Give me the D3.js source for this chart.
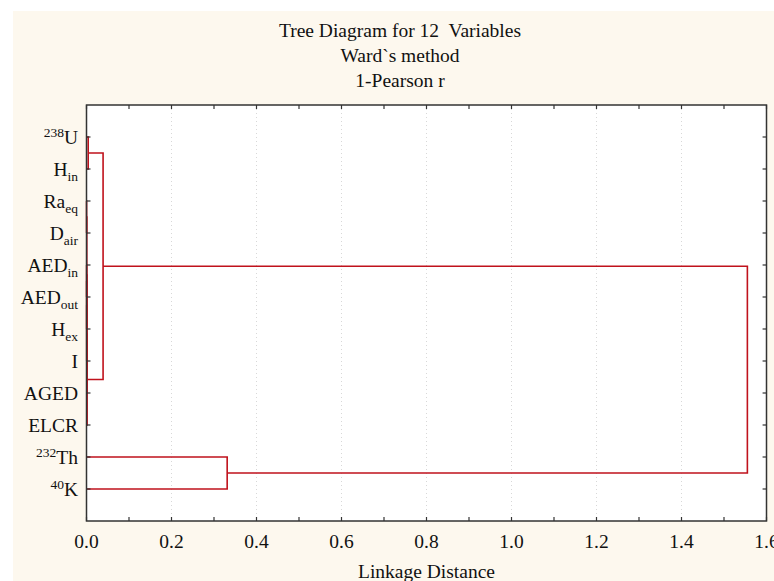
<!DOCTYPE html>
<html><head><meta charset="utf-8">
<script src="https://cdn.jsdelivr.net/npm/d3@7"></script>
<style>
html,body{margin:0;padding:0;background:#fff;}
svg{display:block;font-family:"Liberation Serif","Times New Roman",serif;}
text{white-space:pre;}
</style></head>
<body>
<svg id="chart" width="774" height="581"></svg>
<script>
// ---- data ----
const titleLines = ["Tree Diagram for 12  Variables", "Ward`s method", "1-Pearson r"];
const xAxisTitle = "Linkage Distance";
// leaf labels (top to bottom); ^{..} = superscript, _{..} = subscript
const leaves = ["^{238}U", "H_{in}", "Ra_{eq}", "D_{air}", "AED_{in}", "AED_{out}", "H_{ex}", "I", "AGED", "ELCR", "^{232}Th", "^{40}K"];
// amalgamation schedule: cluster n = 12 + row index joins mergeA[row] and mergeB[row]
const mergeA = [2, 4, 13, 14, 12, 16, 17, 0, 19, 10, 20];
const mergeB = [3, 5, 6, 7, 15, 8, 9, 1, 18, 11, 21];
const mergeDist = [0.0002, 0.0003, 0.0004, 0.0005, 0.0007, 0.001, 0.0015, 0.004, 0.039, 0.331, 1.555];
const xTicksMajor = [0, 0.2, 0.4, 0.6, 0.8, 1.0, 1.2, 1.4, 1.6];
const xTicksMinor = [0.1, 0.3, 0.5, 0.7, 0.9, 1.1, 1.3, 1.5];

// ---- layout ----
const svg = d3.select("#chart");
const L = 86.5, R = 766.5, T = 105, B = 521;
const cream = "#fdf8ee";
svg.append("rect").attr("x", 13).attr("y", 11).attr("width", 774).attr("height", 581).attr("fill", cream);
svg.append("rect").attr("x", L).attr("y", T).attr("width", R - L).attr("height", B - T).attr("fill", "#fff");

const x = d3.scaleLinear().domain([0, 1.6]).range([L, R]);
const y = d3.scalePoint().domain(d3.range(leaves.length)).range([T, B]).padding(1);

// gridlines (faint dotted)
svg.append("g").selectAll("line").data(xTicksMajor.slice(1, -1)).join("line")
  .attr("x1", d => x(d)).attr("x2", d => x(d)).attr("y1", T).attr("y2", B)
  .attr("stroke", "#d8d8d8").attr("stroke-width", 1).attr("stroke-dasharray", "1,3");

// nodes
const nodes = leaves.map((l, i) => ({h: 0, y: y(i)}));
mergeA.forEach((a, k) => {
  const b = mergeB[k];
  nodes.push({h: mergeDist[k], y: (nodes[a].y + nodes[b].y) / 2, a, b});
});
const red = "#c0121c";
const g = svg.append("g").attr("fill", "none").attr("stroke", red).attr("stroke-width", 1.6);
nodes.slice(leaves.length).forEach(n => {
  const A = nodes[n.a], Bn = nodes[n.b];
  const p = d3.path();
  p.moveTo(x(A.h), A.y);
  p.lineTo(x(n.h), A.y);
  p.lineTo(x(n.h), Bn.y);
  p.lineTo(x(Bn.h), Bn.y);
  g.append("path").attr("d", p.toString());
});

// frame
const axisCol = "#333";
svg.append("rect").attr("x", L).attr("y", T).attr("width", R - L).attr("height", B - T)
  .attr("fill", "none").attr("stroke", axisCol).attr("stroke-width", 1.5);

// x ticks bottom & top
const allX = xTicksMajor.concat(xTicksMinor);
svg.append("g").selectAll("line").data(allX).join("line")
  .attr("x1", d => x(d)).attr("x2", d => x(d)).attr("y1", B).attr("y2", B - 4)
  .attr("stroke", axisCol).attr("stroke-width", 1.2);
svg.append("g").selectAll("line").data(allX).join("line")
  .attr("x1", d => x(d)).attr("x2", d => x(d)).attr("y1", T).attr("y2", T + 4)
  .attr("stroke", axisCol).attr("stroke-width", 1.2);
// y ticks left & right
svg.append("g").selectAll("line").data(d3.range(leaves.length)).join("line")
  .attr("x1", L).attr("x2", L + 4).attr("y1", d => y(d)).attr("y2", d => y(d))
  .attr("stroke", axisCol).attr("stroke-width", 1.2);
svg.append("g").selectAll("line").data(d3.range(leaves.length)).join("line")
  .attr("x1", R).attr("x2", R - 4).attr("y1", d => y(d)).attr("y2", d => y(d))
  .attr("stroke", axisCol).attr("stroke-width", 1.2);

// x tick labels
svg.append("g").selectAll("text").data(xTicksMajor).join("text")
  .attr("x", d => x(d)).attr("y", 548).attr("text-anchor", "middle")
  .attr("font-size", 19.5).attr("fill", "#111").text(d => d3.format(".1f")(d));

// axis title
svg.append("text").attr("x", (L + R) / 2).attr("y", 578).attr("text-anchor", "middle")
  .attr("font-size", 19.5).attr("fill", "#111").text(xAxisTitle);

// chart title
titleLines.forEach((t, i) => {
  svg.append("text").attr("x", 400).attr("y", 37 + i * 25).attr("text-anchor", "middle")
    .attr("font-size", 19.5).attr("fill", "#111").text(t);
});

// leaf labels
function parseLabel(s) {
  const parts = [];
  const re = /([\^_])\{([^}]*)\}|([^\^_]+)/g;
  let m;
  while ((m = re.exec(s)) !== null) {
    if (m[3]) parts.push({t: m[3], k: null});
    else parts.push({t: m[2], k: m[1] === "^" ? "sup" : "sub"});
  }
  return parts;
}
leaves.forEach((lab, i) => {
  const t = svg.append("text").attr("x", 78).attr("y", y(i) + 6.5).attr("text-anchor", "end")
    .attr("font-size", 19.5).attr("fill", "#111");
  let shift = 0;
  parseLabel(lab).forEach(p => {
    const ts = t.append("tspan").text(p.t);
    let target = p.k === "sup" ? -7 : p.k === "sub" ? 5 : 0;
    if (target !== shift) { ts.attr("dy", target - shift); shift = target; }
    if (p.k) ts.attr("font-size", 13.5);
  });
});
</script>
</body></html>
